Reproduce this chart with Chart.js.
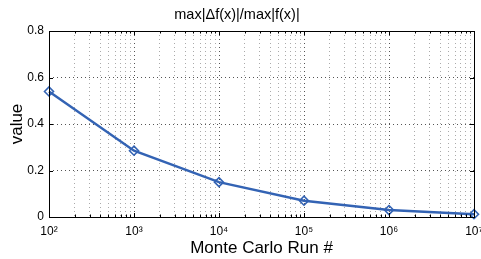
<!DOCTYPE html>
<html>
<head>
<meta charset="utf-8">
<script src="https://cdn.jsdelivr.net/npm/chart.js@4"></script>
<style>
  html, body { margin: 0; padding: 0; background: #fff; }
  #wrap { width: 481px; height: 259px; }
</style>
</head>
<body>
<div id="wrap"><canvas id="chart" width="481" height="259"></canvas></div>
<script>
const runs = [1e2, 1e3, 1e4, 1e5, 1e6, 1e7];
const values = [0.54, 0.285, 0.15, 0.07, 0.03, 0.012];
const yTicks = [0, 0.2, 0.4, 0.6, 0.8];
const yTickLabels = ['0', '0.2', '0.4', '0.6', '0.8'];
const xTickLabels = ['10²', '10³', '10⁴', '10⁵', '10⁶', '10⁷'];

const FONT = "'Liberation Sans', Arial, Helvetica, sans-serif";
const LINE = '#3363b4';

// all log ticks 1..9 per decade, labels only on the decades
const logTicks = [];
for (let d = 2; d < 7; d++) {
  for (let m = 1; m < 10; m++) logTicks.push(m * Math.pow(10, d));
}
logTicks.push(1e7);
const isMajor = (v) => runs.includes(v);

// axes box + inward tick marks, matlab style
const boxPlugin = {
  id: 'box',
  afterDraw(chart) {
    const { ctx, chartArea: a, scales } = chart;
    ctx.save();
    ctx.strokeStyle = '#000';
    ctx.lineWidth = 1;
    ctx.beginPath();
    scales.x.ticks.forEach((t) => {
      const px = Math.round(scales.x.getPixelForValue(t.value)) + 0.5;
      const len = isMajor(t.value) ? 4 : 2.5;
      ctx.moveTo(px, a.bottom); ctx.lineTo(px, a.bottom - len);
      ctx.moveTo(px, a.top); ctx.lineTo(px, a.top + len);
    });
    scales.y.ticks.forEach((t) => {
      const py = Math.round(scales.y.getPixelForValue(t.value)) + 0.5;
      ctx.moveTo(a.left, py); ctx.lineTo(a.left + 4, py);
      ctx.moveTo(a.right, py); ctx.lineTo(a.right - 4, py);
    });
    ctx.stroke();
    ctx.strokeRect(Math.round(a.left) + 0.5, Math.round(a.top) + 0.5,
      Math.round(a.right - a.left), Math.round(a.bottom - a.top));
    ctx.restore();
  }
};

new Chart(document.getElementById('chart').getContext('2d'), {
  type: 'line',
  data: {
    labels: runs,
    datasets: [{
      data: runs.map((r, i) => ({ x: r, y: values[i] })),
      borderColor: LINE,
      backgroundColor: 'rgba(255,255,255,0)',
      borderWidth: 2.5,
      pointStyle: 'rectRot',
      pointRadius: 4.5,
      pointBorderWidth: 1.6,
      pointBorderColor: LINE,
      tension: 0,
      clip: false,
    }]
  },
  options: {
    responsive: false,
    animation: false,
    layout: { padding: { left: 0, right: 7, top: 0, bottom: 0 } },
    plugins: {
      legend: { display: false },
      tooltip: { enabled: false },
      title: {
        display: true,
        text: 'max|\u0394f(x)|/max|f(x)|',
        color: '#000',
        font: { family: FONT, size: 14.5, weight: 'normal' },
        padding: { top: 6, bottom: 7.6 }
      }
    },
    scales: {
      x: {
        type: 'logarithmic',
        min: 1e2,
        max: 1e7,
        afterBuildTicks: (scale) => { scale.ticks = logTicks.map((v) => ({ value: v })); },
        afterFit: (scale) => {
          scale.height = 42;
          // let the last label run off the edge like the original
          scale.paddingLeft = 0;
          scale.paddingRight = 0;
        },
        ticks: {
          autoSkip: false,
          maxRotation: 0,
          padding: 7,
          color: '#000',
          font: { family: FONT, size: 12 },
          callback: (v) => {
            const i = runs.indexOf(v);
            return i >= 0 ? xTickLabels[i] : '';
          }
        },
        grid: {
          drawTicks: false,
          color: (c) => (c.tick && isMajor(c.tick.value) ? '#555' : '#aaa'),
          lineWidth: 1
        },
        border: { display: false, dash: [1, 3] },
        title: {
          display: true,
          text: 'Monte Carlo Run #',
          color: '#000',
          font: { family: FONT, size: 17 },
          padding: { top: 0, bottom: 0 }
        }
      },
      y: {
        min: 0,
        max: 0.8,
        afterBuildTicks: (scale) => { scale.ticks = yTicks.map((v) => ({ value: v })); },
        afterFit: (scale) => { scale.width = 49; },
        ticks: {
          padding: 5,
          color: '#000',
          font: { family: FONT, size: 12 },
          callback: (v) => {
            const i = yTicks.findIndex((t) => Math.abs(t - v) < 1e-9);
            return i >= 0 ? yTickLabels[i] : '';
          }
        },
        grid: { drawTicks: false, color: '#555', lineWidth: 1 },
        border: { display: false, dash: [1, 3] },
        title: {
          display: true,
          text: 'value',
          color: '#000',
          font: { family: FONT, size: 17 },
          padding: { top: 7, bottom: 0 }
        }
      }
    }
  },
  plugins: [boxPlugin]
});
</script>
</body>
</html>
